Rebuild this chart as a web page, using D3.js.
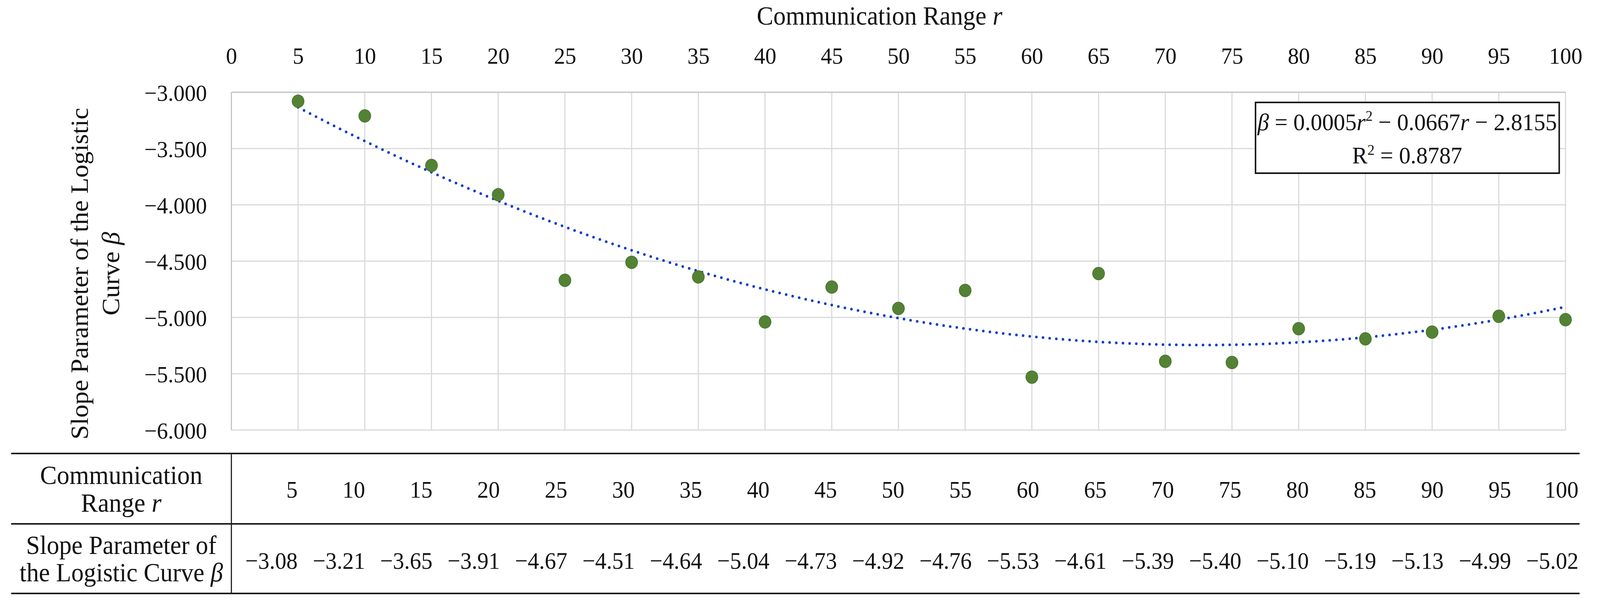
<!DOCTYPE html>
<html>
<head>
<meta charset="utf-8">
<script src="https://cdn.jsdelivr.net/npm/d3@7"></script>
<style>
  html, body { margin: 0; padding: 0; background: #ffffff; overflow: hidden; width: 100%; height: 100%; }
  svg { display: block; width: 100vw; height: 100vh; }
  text { font-family: "Liberation Serif", "Times New Roman", serif; fill: #111; }
</style>
</head>
<body>
<svg id="chart" viewBox="0 0 4315 1545" preserveAspectRatio="none"></svg>
<script>
// ---- data ----
const ranges = [5, 10, 15, 20, 25, 30, 35, 40, 45, 50, 55, 60, 65, 70, 75, 80, 85, 90, 95, 100];
const betas  = [-3.08, -3.21, -3.65, -3.91, -4.67, -4.51, -4.64, -5.04, -4.73, -4.92,
                -4.76, -5.53, -4.61, -5.39, -5.40, -5.10, -5.19, -5.13, -4.99, -5.02];
const xTicks = [0, 5, 10, 15, 20, 25, 30, 35, 40, 45, 50, 55, 60, 65, 70, 75, 80, 85, 90, 95, 100];
const yTicks = [-3.0, -3.5, -4.0, -4.5, -5.0, -5.5, -6.0];
const betaLabels = ["−3.08","−3.21","−3.65","−3.91","−4.67","−4.51","−4.64","−5.04","−4.73","−4.92",
                    "−4.76","−5.53","−4.61","−5.39","−5.40","−5.10","−5.19","−5.13","−4.99","−5.02"];

const svg = d3.select("#chart");
const x = d3.scaleLinear().domain([0, 100]).range([624, 4222]);
const y = d3.scaleLinear().domain([-6, -3]).range([1100, 236]);
const fmtY = v => (v < 0 ? "−" : "") + Math.abs(v).toFixed(3);

// ---- gridlines ----
const grid = svg.append("g");
grid.selectAll("line.v").data(xTicks).join("line")
  .attr("x1", d => x(d)).attr("x2", d => x(d))
  .attr("y1", y(-3)).attr("y2", y(-6))
  .attr("stroke", "#d9d9d9").attr("stroke-width", 3);
grid.selectAll("line.h").data(yTicks).join("line")
  .attr("x1", x(0)).attr("x2", x(100))
  .attr("y1", d => y(d)).attr("y2", d => y(d))
  .attr("stroke", "#d9d9d9").attr("stroke-width", 3);
svg.append("line").attr("x1", x(0)).attr("x2", x(0)).attr("y1", y(-3)).attr("y2", y(-6))
  .attr("stroke", "#c4c4c4").attr("stroke-width", 3);
svg.append("line").attr("x1", x(0)).attr("x2", x(100)).attr("y1", y(-3)).attr("y2", y(-3))
  .attr("stroke", "#c4c4c4").attr("stroke-width", 3);

// ---- axes (labels only) ----
const gx = svg.append("g").attr("transform", `translate(0,${y(-3)})`)
  .call(d3.axisTop(x).tickValues(xTicks).tickSize(0).tickPadding(73).tickFormat(d3.format("d")));
gx.select(".domain").remove();
gx.attr("font-family", null).attr("font-size", null);
gx.selectAll("text").attr("font-size", 60).attr("fill", "#111");

const gy = svg.append("g").attr("transform", `translate(${x(0)},0)`)
  .call(d3.axisLeft(y).tickValues(yTicks).tickSize(0).tickPadding(66).tickFormat(fmtY));
gy.select(".domain").remove();
gy.attr("font-family", null).attr("font-size", null);
gy.selectAll("text").attr("font-size", 60).attr("fill", "#111").attr("dy", "0.35em");

// ---- axis titles ----
const xt = svg.append("text").attr("x", 2372).attr("y", 63)
  .attr("text-anchor", "middle").attr("font-size", 67);
xt.append("tspan").text("Communication Range ");
xt.append("tspan").attr("font-style", "italic").text("r");

svg.append("text").attr("transform", "translate(237,700) rotate(-90)")
  .attr("text-anchor", "middle").attr("font-size", 67)
  .text("Slope Parameter of the Logistic");
const yt2 = svg.append("text").attr("transform", "translate(321,700) rotate(-90)")
  .attr("text-anchor", "middle").attr("font-size", 67);
yt2.append("tspan").text("Curve ");
yt2.append("tspan").attr("font-style", "italic").text("β");

// ---- quadratic trendline (least squares fit of the data) ----
function quadFit(xs, ys) {
  let S = [0,0,0,0,0], T = [0,0,0];
  xs.forEach((xv, i) => {
    for (let k = 0; k < 5; k++) S[k] += Math.pow(xv, k);
    for (let k = 0; k < 3; k++) T[k] += Math.pow(xv, k) * ys[i];
  });
  const A = [[S[0],S[1],S[2],T[0]],[S[1],S[2],S[3],T[1]],[S[2],S[3],S[4],T[2]]];
  for (let c = 0; c < 3; c++) {
    for (let r = c + 1; r < 3; r++) {
      const f = A[r][c] / A[c][c];
      for (let k = c; k < 4; k++) A[r][k] -= f * A[c][k];
    }
  }
  const s = [0,0,0];
  for (let r = 2; r >= 0; r--) {
    let v = A[r][3];
    for (let k = r + 1; k < 3; k++) v -= A[r][k] * s[k];
    s[r] = v / A[r][r];
  }
  return s;
}
const coef = quadFit(ranges, betas);
const trendX = d3.range(ranges[0], ranges[ranges.length - 1] + 0.001, 0.5);
const trendPts = trendX.map(r => [r, coef[0] + coef[1] * r + coef[2] * r * r]);
svg.append("path").datum(trendPts)
  .attr("d", d3.line().x(d => x(d[0])).y(d => y(d[1])))
  .attr("fill", "none").attr("stroke", "#0d3fc4").attr("stroke-width", 7)
  .attr("stroke-linecap", "round").attr("stroke-dasharray", "0,18");

// ---- points ----
svg.append("g").selectAll("circle").data(ranges).join("circle")
  .attr("cx", d => x(d)).attr("cy", (d, i) => y(betas[i])).attr("r", 16)
  .attr("fill", "#548235").attr("stroke", "#4a7630").attr("stroke-width", 2);

// ---- equation box ----
svg.append("rect").attr("x", 3386).attr("y", 262).attr("width", 819).attr("height", 181)
  .attr("fill", "#fff").attr("stroke", "#111").attr("stroke-width", 4);
const eq = svg.append("text").attr("x", 3795).attr("y", 333).attr("text-anchor", "middle").attr("font-size", 62);
eq.append("tspan").attr("font-style", "italic").text("β");
eq.append("tspan").text(" = 0.0005");
eq.append("tspan").attr("font-style", "italic").text("r");
eq.append("tspan").attr("font-size", 38).attr("dy", -24).text("2");
eq.append("tspan").attr("dy", 24).text(" − 0.0667");
eq.append("tspan").attr("font-style", "italic").text("r");
eq.append("tspan").text(" − 2.8155");
const r2 = svg.append("text").attr("x", 3795).attr("y", 418).attr("text-anchor", "middle").attr("font-size", 62);
r2.append("tspan").text("R");
r2.append("tspan").attr("font-size", 38).attr("dy", -22).text("2");
r2.append("tspan").attr("dy", 22).text(" = 0.8787");

// ---- table ----
const tableLeft = 30, tableRight = 4260, colStart = 624;
const rowY = [1160, 1340, 1518];
const band = d3.scaleBand().domain(ranges).range([colStart, tableRight]).padding(0);
svg.append("g").selectAll("line").data(rowY).join("line")
  .attr("x1", tableLeft).attr("x2", tableRight).attr("y1", d => d).attr("y2", d => d)
  .attr("stroke", "#1a1a1a").attr("stroke-width", 4);
svg.append("line").attr("x1", colStart).attr("x2", colStart).attr("y1", rowY[0]).attr("y2", rowY[2])
  .attr("stroke", "#1a1a1a").attr("stroke-width", 3);

const labelX = (tableLeft + colStart) / 2;
svg.append("text").attr("x", labelX).attr("y", 1238).attr("text-anchor", "middle").attr("font-size", 68).text("Communication");
const l2 = svg.append("text").attr("x", labelX).attr("y", 1309).attr("text-anchor", "middle").attr("font-size", 68);
l2.append("tspan").text("Range ");
l2.append("tspan").attr("font-style", "italic").text("r");
svg.append("text").attr("x", labelX).attr("y", 1417).attr("text-anchor", "middle").attr("font-size", 67).text("Slope Parameter of");
const l4 = svg.append("text").attr("x", labelX).attr("y", 1487).attr("text-anchor", "middle").attr("font-size", 67);
l4.append("tspan").text("the Logistic Curve ");
l4.append("tspan").attr("font-style", "italic").text("β");

svg.append("g").selectAll("text").data(ranges).join("text")
  .attr("x", d => band(d) + band.bandwidth() - 3).attr("y", 1273)
  .attr("text-anchor", "end").attr("font-size", 61).text(d => d);
svg.append("g").selectAll("text").data(ranges).join("text")
  .attr("x", d => band(d) + band.bandwidth() - 3).attr("y", 1455)
  .attr("text-anchor", "end").attr("font-size", 61).text((d, i) => betaLabels[i]);
</script>
</body>
</html>
